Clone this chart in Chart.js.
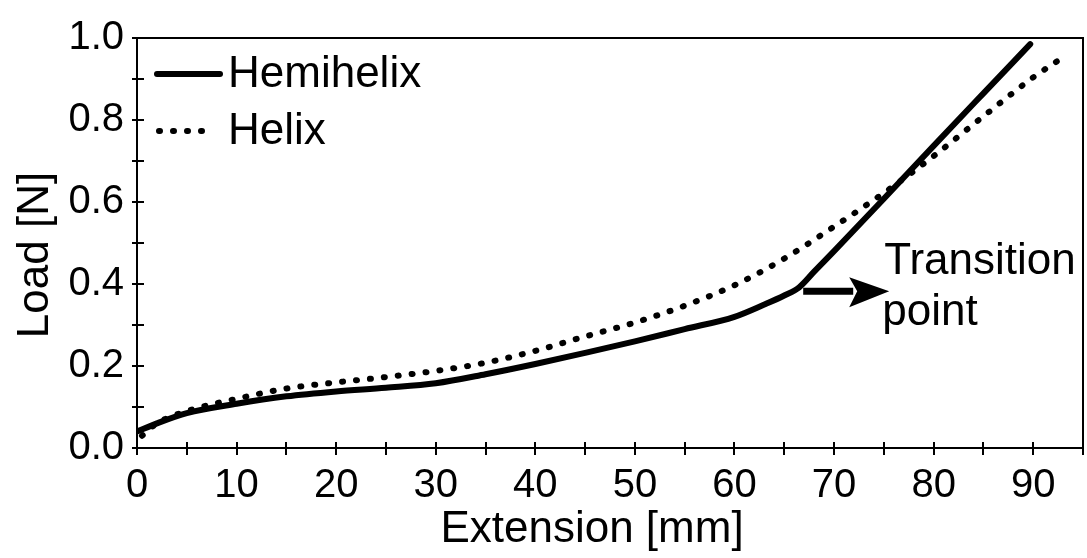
<!DOCTYPE html>
<html>
<head>
<meta charset="utf-8">
<script src="https://cdn.jsdelivr.net/npm/chart.js@4.4.1/dist/chart.umd.min.js"></script>
<style>
  html, body { margin: 0; padding: 0; background: #fff; }
  #wrap { width: 1087px; height: 558px; }
</style>
</head>
<body>
<div id="wrap"><canvas id="chart"></canvas></div>
<script>
// values
const hemihelixX = [0, 2, 5, 10, 15, 20, 25, 30, 35, 40, 45, 50, 55, 60, 63, 65, 66.5, 68, 70, 75, 80, 85, 89.7];
const hemihelixY = [0.04, 0.06, 0.085, 0.108, 0.126, 0.138, 0.147, 0.158, 0.18, 0.205, 0.232, 0.26, 0.29, 0.32, 0.35, 0.372, 0.392, 0.43, 0.48, 0.608, 0.737, 0.865, 0.985];
const helixX = [0.5, 2, 5, 10, 15, 20, 25, 30, 35, 40, 45, 50, 55, 60, 65, 70, 75, 80, 85, 90, 92.5];
const helixY = [0.03, 0.06, 0.09, 0.12, 0.145, 0.16, 0.173, 0.188, 0.208, 0.237, 0.272, 0.306, 0.347, 0.397, 0.462, 0.54, 0.622, 0.712, 0.809, 0.904, 0.945];
const xTickValues = [0, 10, 20, 30, 40, 50, 60, 70, 80, 90];
const yTickValues = [0, 0.2, 0.4, 0.6, 0.8, 1.0];
const transitionPoint = [66.6, 0.385];
const seriesNames = ['Hemihelix', 'Helix'];
const xTitle = 'Extension [mm]';
const yTitle = 'Load [N]';

const FONT = '"Liberation Sans", Arial, sans-serif';

function toPoints(xs, ys) {
    return xs.map((x, i) => ({ x: x, y: ys[i] }));
}

// box, crossing tick marks, legend, axis titles and the transition note
const decorPlugin = {
    id: 'decor',
    afterDraw(chart) {
        const ctx = chart.ctx;
        const xs = chart.scales.x;
        const ys = chart.scales.y;
        const area = chart.chartArea;
        ctx.save();
        ctx.strokeStyle = '#000';
        ctx.fillStyle = '#000';

        // top and right frame
        ctx.lineWidth = 2;
        ctx.beginPath();
        ctx.moveTo(area.left, area.top);
        ctx.lineTo(area.right, area.top);
        ctx.lineTo(area.right, area.bottom);
        ctx.stroke();

        // tick marks every 5 mm and every 0.1 N, crossing the axes
        ctx.lineWidth = 2;
        ctx.beginPath();
        for (let v = 0; v <= 95; v += 5) {
            const px = Math.round(xs.getPixelForValue(v));
            ctx.moveTo(px, area.bottom - 6);
            ctx.lineTo(px, area.bottom + 7);
        }
        for (let i = 0; i <= 10; i++) {
            const py = Math.round(ys.getPixelForValue(i / 10));
            ctx.moveTo(area.left - 5, py);
            ctx.lineTo(area.left + 7, py);
        }
        ctx.stroke();

        // axis titles
        ctx.font = '44px ' + FONT;
        ctx.textAlign = 'center';
        ctx.textBaseline = 'middle';
        ctx.fillText(xTitle, (area.left + area.right) / 2 - 18, 530);
        ctx.save();
        ctx.translate(36, (area.top + area.bottom) / 2 + 12);
        ctx.rotate(-Math.PI / 2);
        ctx.fillText(yTitle, 0, 0);
        ctx.restore();

        // legend
        ctx.textAlign = 'left';
        const legendX = area.left + 20;
        const rows = [area.top + 36, area.top + 93];
        chart.data.datasets.forEach((ds, i) => {
            ctx.save();
            ctx.lineWidth = ds.borderWidth;
            ctx.lineCap = ds.borderCapStyle || 'butt';
            ctx.setLineDash(ds.borderDash || []);
            ctx.beginPath();
            ctx.moveTo(legendX + (i === 1 ? 2 : 0), rows[i]);
            ctx.lineTo(legendX + (i === 1 ? 52 : 63), rows[i]);
            ctx.stroke();
            ctx.restore();
            ctx.fillText(ds.label, legendX + 71, rows[i] + 1);
        });

        // transition point arrow
        const tx = xs.getPixelForValue(transitionPoint[0]) + 3;
        const ty = ys.getPixelForValue(transitionPoint[1]) + 1;
        ctx.lineWidth = 7;
        ctx.beginPath();
        ctx.moveTo(tx, ty);
        ctx.lineTo(tx + 50, ty);
        ctx.stroke();
        ctx.beginPath();
        ctx.moveTo(tx + 46, ty - 14);
        ctx.lineTo(tx + 86, ty);
        ctx.lineTo(tx + 46, ty + 16);
        ctx.lineTo(tx + 54, ty);
        ctx.closePath();
        ctx.fill();

        ctx.textBaseline = 'alphabetic';
        ctx.fillText('Transition', tx + 81, ty - 17);
        ctx.fillText('point', tx + 79, ty + 34);
        ctx.restore();
    }
};

new Chart(document.getElementById('chart'), {
    type: 'scatter',
    data: {
        datasets: [
            {
                label: seriesNames[0],
                data: toPoints(hemihelixX, hemihelixY),
                showLine: true,
                borderColor: '#000',
                borderWidth: 6,
                borderCapStyle: 'round',
                pointRadius: 0,
                cubicInterpolationMode: 'monotone'
            },
            {
                label: seriesNames[1],
                data: toPoints(helixX, helixY),
                showLine: true,
                borderColor: '#000',
                borderWidth: 6,
                borderCapStyle: 'round',
                borderDash: [1, 13],
                pointRadius: 0,
                cubicInterpolationMode: 'monotone'
            }
        ]
    },
    options: {
        responsive: true,
        maintainAspectRatio: false,
        animation: false,
        layout: { padding: { top: 38, right: 4, left: 0, bottom: 0 } },
        plugins: {
            legend: { display: false },
            tooltip: { enabled: false }
        },
        scales: {
            x: {
                type: 'linear',
                min: 0,
                max: 95,
                afterFit: s => { s.height = 110; },
                afterBuildTicks: s => { s.ticks = xTickValues.map(v => ({ value: v })); },
                grid: { display: false, drawTicks: false },
                border: { display: true, color: '#000', width: 2 },
                ticks: {
                    color: '#000',
                    padding: 14,
                    maxRotation: 0,
                    font: { family: FONT, size: 40 }
                },
                title: { display: false }
            },
            y: {
                type: 'linear',
                min: 0,
                max: 1,
                afterFit: s => { s.width = 137; },
                afterBuildTicks: s => { s.ticks = yTickValues.map(v => ({ value: v })); },
                grid: { display: false, drawTicks: false },
                border: { display: true, color: '#000', width: 2 },
                ticks: {
                    color: '#000',
                    padding: 13,
                    font: { family: FONT, size: 40 },
                    callback: v => v.toFixed(1)
                },
                title: { display: false }
            }
        }
    },
    plugins: [decorPlugin]
});
</script>
</body>
</html>
